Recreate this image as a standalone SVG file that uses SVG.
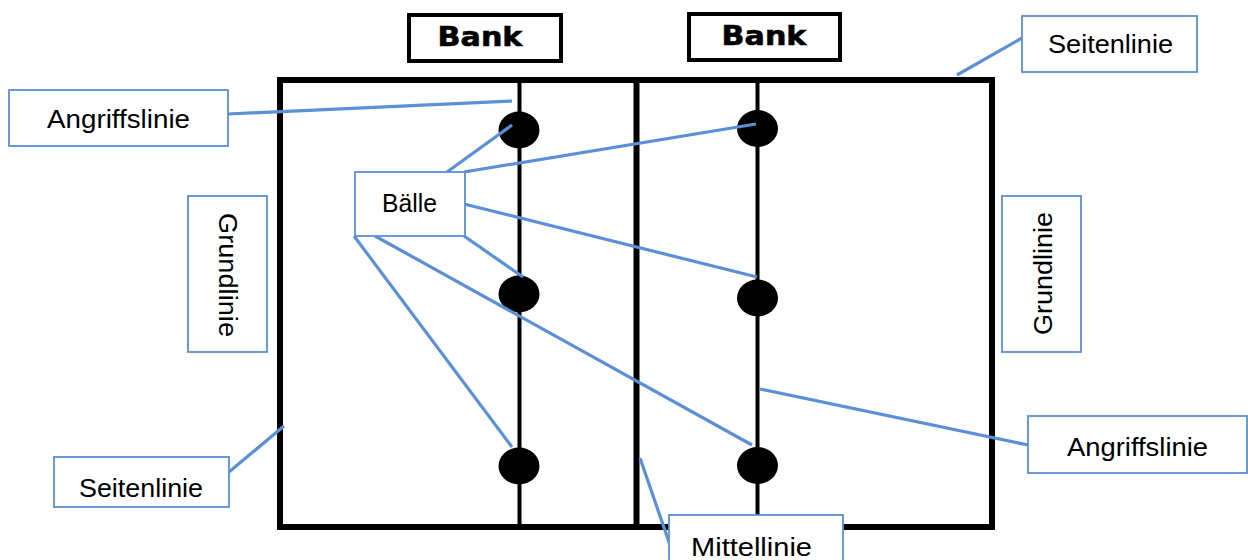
<svg xmlns="http://www.w3.org/2000/svg" width="1248" height="560" viewBox="0 0 1248 560">
  <style>
    .court { fill: none; stroke: #000; stroke-width: 6; }
    .attack { stroke: #000; stroke-width: 4; }
    .ball { fill: #000; }
    .bench { fill: #fff; stroke: #000; stroke-width: 4; }
    .bench-text { font-family: "DejaVu Sans", "Liberation Sans", sans-serif; font-weight: bold; font-size: 26px; fill: #000; stroke: #000; stroke-width: 0.6; text-anchor: middle; }
    .label { fill: #fff; stroke: #5B8FD6; stroke-width: 1.8; }
    .label-text { font-family: "Liberation Sans", Arial, sans-serif; font-size: 26px; fill: #000; text-anchor: middle; }
    .conn line { stroke: #5B8FD6; stroke-width: 3.2; stroke-linecap: butt; }
  </style>

  <!-- court -->
  <g id="court">
    <rect class="court" x="280" y="80" width="712" height="447"/>
    <line x1="636.5" y1="80" x2="636.5" y2="527" stroke="#000" stroke-width="6"/>
    <line class="attack" x1="519.5" y1="80" x2="519.5" y2="527"/>
    <line class="attack" x1="757.5" y1="80" x2="757.5" y2="527"/>
  </g>

  <!-- balls -->
  <g id="balls">
    <ellipse class="ball" cx="519" cy="130" rx="20.5" ry="18.5"/>
    <ellipse class="ball" cx="519" cy="294" rx="20.5" ry="18.5"/>
    <ellipse class="ball" cx="519" cy="466" rx="20.5" ry="18.5"/>
    <ellipse class="ball" cx="757.5" cy="128.5" rx="20.5" ry="18.5"/>
    <ellipse class="ball" cx="757.5" cy="298" rx="20.5" ry="18.5"/>
    <ellipse class="ball" cx="757.5" cy="465.5" rx="20.5" ry="18.5"/>
  </g>

  <!-- benches -->
  <g id="bank-left">
    <rect class="bench" x="409" y="15" width="152" height="46"/>
    <text class="bench-text" transform="translate(480,46) scale(1.16,1)" x="0" y="0">Bank</text>
  </g>
  <g id="bank-right">
    <rect class="bench" x="689" y="14" width="151" height="46"/>
    <text class="bench-text" transform="translate(764,45) scale(1.16,1)" x="0" y="0">Bank</text>
  </g>

  <!-- connectors -->
  <g id="connectors" class="conn">
    <line x1="228" y1="114" x2="512" y2="101"/>
    <line x1="447" y1="172" x2="512" y2="125"/>
    <line x1="464" y1="172" x2="756" y2="124"/>
    <line x1="464" y1="204" x2="757" y2="277"/>
    <line x1="464" y1="236" x2="523" y2="277"/>
    <line x1="354" y1="236" x2="512" y2="447"/>
    <line x1="375" y1="236" x2="752" y2="445"/>
    <line x1="229" y1="472" x2="284" y2="426"/>
    <line x1="1022" y1="38" x2="957" y2="75"/>
    <line x1="760" y1="389" x2="1028" y2="445"/>
    <line x1="640" y1="458" x2="670" y2="545"/>
  </g>

  <!-- labels -->
  <g id="angriffslinie-left">
    <rect class="label" x="9" y="90" width="219" height="56"/>
    <text class="label-text" x="118.5" y="128" textLength="143" lengthAdjust="spacingAndGlyphs">Angriffslinie</text>
  </g>
  <g id="baelle">
    <rect class="label" x="355" y="172" width="110" height="64"/>
    <text class="label-text" x="409.5" y="212" textLength="55" lengthAdjust="spacingAndGlyphs">Bälle</text>
  </g>
  <g id="grundlinie-left">
    <rect class="label" x="188" y="196" width="79" height="156"/>
    <text class="label-text" transform="translate(219,275) rotate(90)" x="0" y="0" textLength="124" lengthAdjust="spacingAndGlyphs">Grundlinie</text>
  </g>
  <g id="grundlinie-right">
    <rect class="label" x="1002" y="196" width="79" height="156"/>
    <text class="label-text" transform="translate(1052,273.5) rotate(-90)" x="0" y="0" textLength="123" lengthAdjust="spacingAndGlyphs">Grundlinie</text>
  </g>
  <g id="seitenlinie-left">
    <rect class="label" x="54" y="457" width="175" height="50"/>
    <text class="label-text" x="141" y="497" textLength="124" lengthAdjust="spacingAndGlyphs">Seitenlinie</text>
  </g>
  <g id="seitenlinie-right">
    <rect class="label" x="1022" y="16" width="175" height="56"/>
    <text class="label-text" x="1110.5" y="53" textLength="125" lengthAdjust="spacingAndGlyphs">Seitenlinie</text>
  </g>
  <g id="angriffslinie-right">
    <rect class="label" x="1028" y="416" width="219" height="57"/>
    <text class="label-text" x="1137.5" y="456" textLength="141" lengthAdjust="spacingAndGlyphs">Angriffslinie</text>
  </g>
  <g id="mittellinie">
    <rect class="label" x="669" y="515" width="174" height="60"/>
    <text class="label-text" x="751.5" y="556" textLength="121" lengthAdjust="spacingAndGlyphs">Mittellinie</text>
  </g>
</svg>
